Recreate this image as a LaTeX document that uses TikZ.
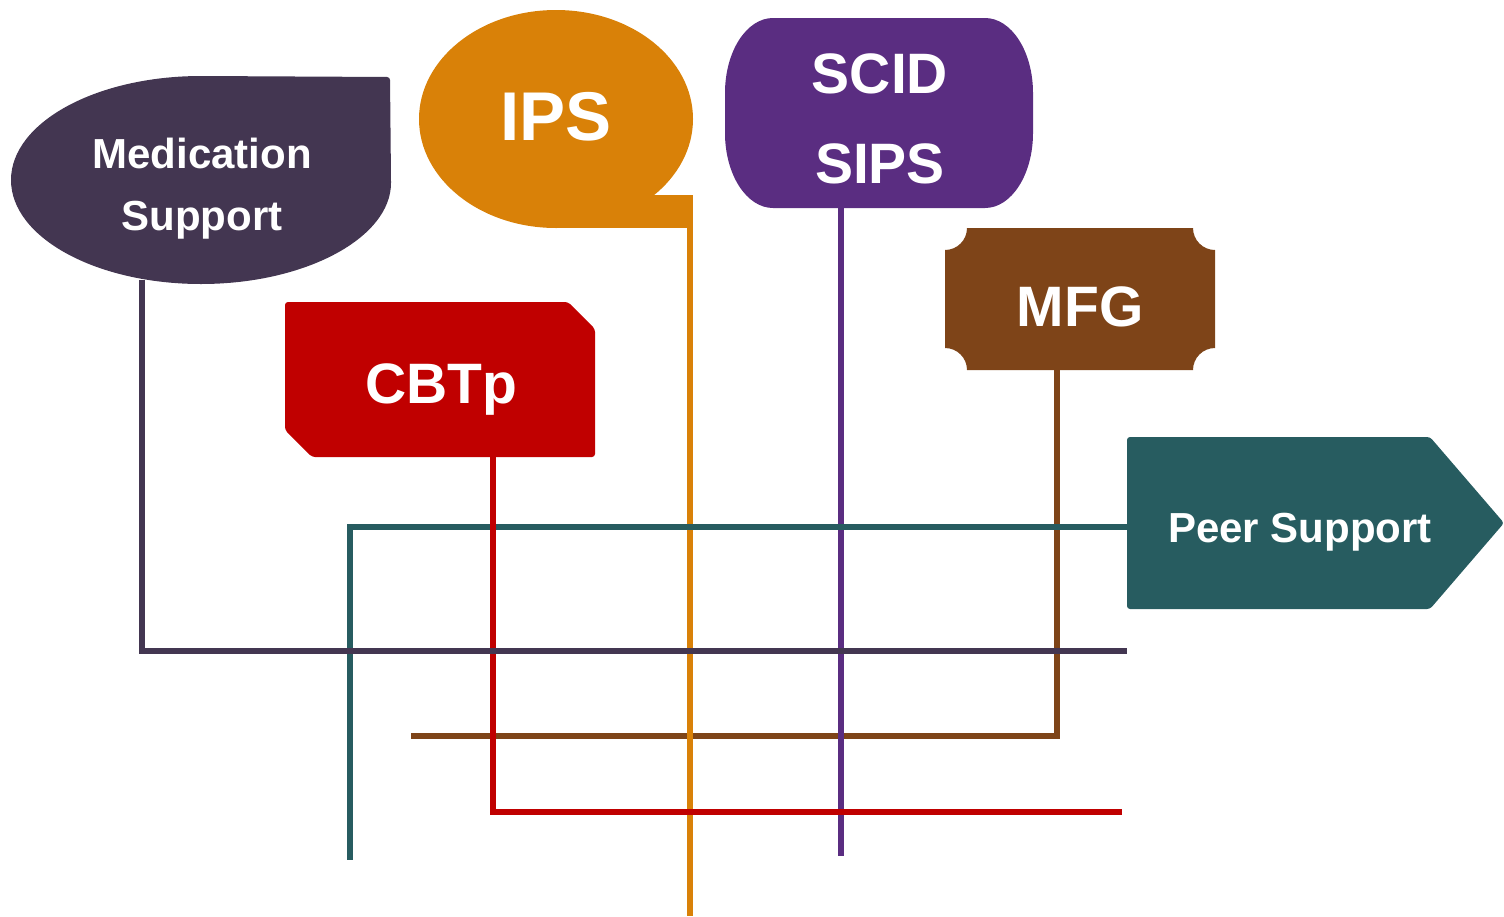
\documentclass[tikz,border=0pt]{standalone}
\usepackage{fontspec}
\setmainfont{Liberation Sans}
\usepackage{xcolor}
\usepackage{tikz}
\definecolor{medcol}{HTML}{433651}
\definecolor{ipscol}{HTML}{D98108}
\definecolor{scidcol}{HTML}{5A2D81}
\definecolor{mfgcol}{HTML}{7E4418}
\definecolor{cbtcol}{HTML}{C00000}
\definecolor{peercol}{HTML}{275C60}
\tikzset{
  tag/.style={text=white, font=\bfseries, inner sep=0pt, anchor=base, align=center},
  bigtag/.style={tag, font=\fontsize{57}{90}\selectfont\bfseries},
  smalltag/.style={tag, font=\fontsize{42}{62}\selectfont\bfseries},
  wire/.style={line width=6.5pt, line join=miter}
}

\begin{document}
\begin{tikzpicture}[x=1pt,y=-1pt]
\path[use as bounding box] (0,0) rectangle (1504,916);

\coordinate (med-foot) at (142,280);
\coordinate (med-end) at (1127,651);
\coordinate (ips-foot) at (690,198);
\coordinate (ips-end) at (690,916);
\coordinate (scid-foot) at (841,208);
\coordinate (scid-end) at (841,856);
\coordinate (mfg-foot) at (1057,370);
\coordinate (mfg-end) at (411,736);
\coordinate (cbt-foot) at (493,457);
\coordinate (cbt-end) at (1122,812);
\coordinate (peer-foot) at (1127,527);
\coordinate (peer-end) at (350,860);

\draw[wire, mfgcol] (mfg-foot) |- (mfg-end);
\draw[wire, ipscol] (ips-foot) -- (ips-end);
\draw[wire, scidcol] (scid-foot) -- (scid-end);
\draw[wire, peercol] (peer-foot) -| (peer-end);
\draw[wire, cbtcol] (cbt-foot) |- (cbt-end);
\draw[wire, medcol] (med-foot) |- (med-end);

\fill[medcol, rounded corners=3pt] (201,76) -- (390,77) -- (391,180)
  [sharp corners] arc[start angle=0, end angle=270, x radius=190, y radius=104] -- cycle;
\fill[ipscol] (556,119) ellipse[x radius=137, y radius=109];
\fill[ipscol] (556,195) rectangle (693,228);
\fill[scidcol] (773,18) -- (985,18) arc[start angle=270, end angle=360, x radius=48, y radius=75]
  -- (1033,133) arc[start angle=0, end angle=90, x radius=48, y radius=75]
  -- (773,208) arc[start angle=90, end angle=180, x radius=48, y radius=75]
  -- (725,93) arc[start angle=180, end angle=270, x radius=48, y radius=75] -- cycle;
\fill[mfgcol] (967,228) -- (1193,228) arc[start angle=180, end angle=90, radius=22]
  -- (1215,348) arc[start angle=270, end angle=180, radius=22]
  -- (967,370) arc[start angle=0, end angle=-90, radius=22]
  -- (945,250) arc[start angle=90, end angle=0, radius=22] -- cycle;
\fill[cbtcol, rounded corners=3pt] (285,302) -- (568,302) -- (595,329) -- (595,457)
  -- (312,457) -- (285,430) -- cycle;
\fill[peercol, rounded corners=3pt] (1127,437) -- (1430,437) -- (1504,523) -- (1430,609)
  -- (1127,609) -- cycle;

\node[smalltag] (med) at (202,230) {Medication\\Support};
\node[bigtag, font=\fontsize{69}{80}\selectfont\bfseries] (ips) at (556,140) {IPS};
\node[bigtag] (scid) at (880,183) {SCID\\SIPS};
\node[bigtag] (mfg) at (1080,326) {MFG};
\node[bigtag] (cbt) at (441,403) {CBTp};
\node[smalltag] (peer) at (1300,542) {Peer Support};

\end{tikzpicture}
\end{document}
